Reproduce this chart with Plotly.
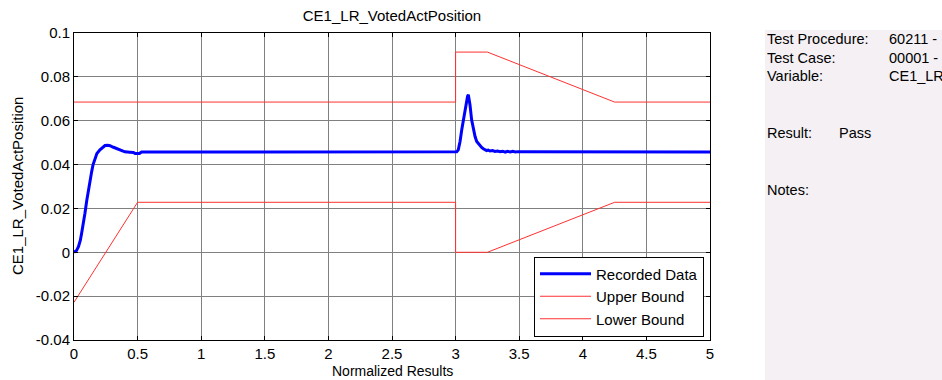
import plotly.graph_objects as go

# ---- data ----
recorded_x = [0, 0.02, 0.035, 0.05, 0.06, 0.075, 0.086, 0.1, 0.113, 0.125, 0.139, 0.15,
              0.165, 0.18, 0.204, 0.225, 0.244, 0.265, 0.283, 0.31, 0.336, 0.37, 0.40,
              0.44, 0.466, 0.48, 0.497, 0.515, 0.532,
              3.0, 3.009, 3.021, 3.035, 3.048, 3.061, 3.074, 3.087, 3.094, 3.100, 3.106,
              3.113, 3.126, 3.139, 3.153, 3.166, 3.179, 3.192, 3.205, 3.218, 3.231, 3.244,
              3.257, 3.270, 3.29, 3.31, 3.33, 3.35, 3.37, 3.39, 3.41, 3.43, 3.45, 3.47,
              3.49, 5.0]
recorded_y = [0, 0.0008, 0.0026, 0.0055, 0.0087, 0.0130, 0.0178, 0.0235, 0.0284, 0.0330,
              0.0368, 0.0400, 0.0429, 0.0450, 0.0467, 0.0480, 0.0487, 0.0488, 0.0486,
              0.0479, 0.0472, 0.0464, 0.0458, 0.0456, 0.0455, 0.0451, 0.0450, 0.0451,
              0.0457,
              0.0457, 0.0459, 0.0467, 0.0505, 0.0558, 0.0604, 0.0642, 0.0695, 0.0712,
              0.0718, 0.0700, 0.0673, 0.0604, 0.0558, 0.0528, 0.0505, 0.0494, 0.0485,
              0.0478, 0.0472, 0.0468, 0.0464, 0.0466, 0.0462, 0.0464, 0.0460, 0.0462,
              0.0459, 0.0461, 0.0457, 0.0460, 0.0457, 0.0460, 0.0457, 0.0459, 0.0457]

upper_x = [0, 3, 3, 3.25, 4.25, 5]
upper_y = [0.0685, 0.0685, 0.0913, 0.0913, 0.0685, 0.0685]

lower_x = [0, 0.5, 3, 3, 3.25, 4.25, 5]
lower_y = [-0.0228, 0.0228, 0.0228, 0.0, 0.0, 0.0228, 0.0228]

x_tickvals = [0, 0.5, 1, 1.5, 2, 2.5, 3, 3.5, 4, 4.5, 5]
x_ticktext = ["0", "0.5", "1", "1.5", "2", "2.5", "3", "3.5", "4", "4.5", "5"]
y_tickvals = [-0.04, -0.02, 0, 0.02, 0.04, 0.06, 0.08, 0.1]
y_ticktext = ["-0.04", "-0.02", "0", "0.02", "0.04", "0.06", "0.08", "0.1"]

title_text = "CE1_LR_VotedActPosition"
x_title = "Normalized Results"
y_title = "CE1_LR_VotedActPosition"
info_labels = ["Test Procedure:", "Test Case:", "Variable:"]
info_values = ["60211 -", "00001 -", "CE1_LR_VotedActPosition"]
result_label = "Result:"
result_value = "Pass"
notes_label = "Notes:"

FONT = "Liberation Sans, Arial, sans-serif"

fig = go.Figure()
fig.add_trace(go.Scatter(x=recorded_x, y=recorded_y, mode="lines", name="Recorded Data",
                         line=dict(color="#0000ff", width=3)))
fig.add_trace(go.Scatter(x=upper_x, y=upper_y, mode="lines", name="Upper Bound",
                         line=dict(color="#ff3030", width=1)))
fig.add_trace(go.Scatter(x=lower_x, y=lower_y, mode="lines", name="Lower Bound",
                         line=dict(color="#ff3030", width=1)))

# the page body margin is removed by a post script, so work in screenshot pixels
OFF = 0
SW, SH = 942, 380
W, H = SW - OFF, SH - OFF
L, R, T, B = 74, 710, 33, 340          # plot area in screenshot pixels
pw, ph = R - L, B - T


def px_x(p):
    return (p - L) / pw


def px_y(p):
    return (B - p) / ph


def txt(text, x, y, size=14.5, xanchor="left", angle=0):
    return dict(text=text, xref="paper", yref="paper", x=px_x(x), y=px_y(y),
                xanchor=xanchor, yanchor="middle", showarrow=False, textangle=angle,
                font=dict(family=FONT, size=size, color="#000"))


shapes = [dict(type="rect", xref="paper", yref="paper", x0=px_x(765), x1=px_x(960),
               y0=px_y(30), y1=px_y(400), fillcolor="#f4f0f4", line=dict(width=0),
               layer="below")]

annotations = []
rows_y = [39.3, 57.7, 76.3]
for lab, val, yy in zip(info_labels, info_values, rows_y):
    annotations.append(txt(lab, 765, yy))
    annotations.append(txt(val, 887, yy))
annotations.append(txt(result_label, 765, 132.5))
annotations.append(txt(result_value, 837, 132.5))
annotations.append(txt(notes_label, 765, 190))
annotations.append(txt(x_title, (L + R) / 2, 371, size=14, xanchor="center"))
annotations.append(txt(y_title, 17.5, (T + B) / 2, size=15, xanchor="center", angle=-90))

fig.update_layout(
    width=W, height=H,
    margin=dict(l=L - OFF, r=SW - R, t=T - OFF, b=SH - B, pad=0, autoexpand=False),
    paper_bgcolor="white", plot_bgcolor="white",
    font=dict(family=FONT, size=15, color="#000"),
    title=dict(text=title_text, x=0.5, xref="paper", y=1 - (16 - OFF) / H, yref="container",
               xanchor="center", yanchor="middle", font=dict(family=FONT, size=15, color="#000")),
    showlegend=True,
    legend=dict(x=px_x(704), y=px_y(336.5), xanchor="right", yanchor="bottom",
                bgcolor="white", bordercolor="#000", borderwidth=1,
                font=dict(family=FONT, size=15, color="#000"), itemwidth=51,
                tracegroupgap=0),
    shapes=shapes,
    annotations=annotations,
)

fig.update_xaxes(range=[0, 5], tickvals=x_tickvals, ticktext=x_ticktext, automargin=False,
                 showgrid=True, gridcolor="#808080", gridwidth=1, zeroline=False,
                 showline=True, linecolor="#000", linewidth=1, mirror="ticks",
                 ticks="inside", ticklen=4, tickcolor="#000",
                 tickfont=dict(family=FONT, size=15, color="#000"))
fig.update_yaxes(range=[-0.04, 0.1], tickvals=y_tickvals, ticktext=y_ticktext, automargin=False,
                 showgrid=True, gridcolor="#808080", gridwidth=1, zeroline=False,
                 showline=True, linecolor="#000", linewidth=1, mirror="ticks",
                 ticks="inside", ticklen=4, tickcolor="#000",
                 tickfont=dict(family=FONT, size=15, color="#000"))

fig.write_html("out.html", config={"displayModeBar": False},
               post_script="document.body.style.margin='0';document.body.style.overflow='hidden';")
